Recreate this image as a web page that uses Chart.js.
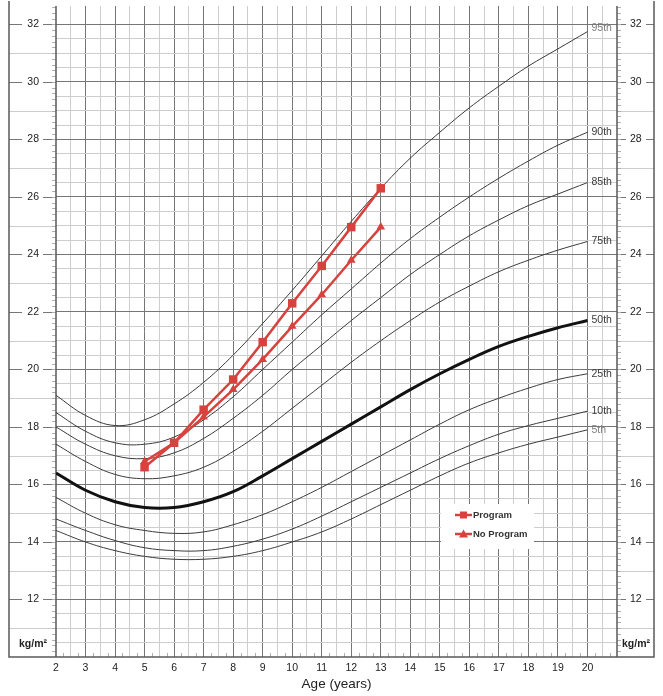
<!DOCTYPE html>
<html>
<head>
<meta charset="utf-8">
<script src="https://cdn.jsdelivr.net/npm/chart.js@4.4.1/dist/chart.umd.min.js"></script>
<style>
  html, body { margin: 0; padding: 0; background: #fff; }
  #wrap { width: 663px; height: 696px; }
</style>
</head>
<body>
<div id="wrap"><canvas id="myChart" width="663" height="696"></canvas></div>
<script>
// ages for the percentile curves
var ages = [2,3,4,5,6,7,8,9,10,11,12,13,14,15,16,17,18,19,20];

var p5  = [14.4,14.0,13.7,13.5,13.4,13.4,13.5,13.7,14.0,14.35,14.8,15.3,15.8,16.3,16.75,17.1,17.4,17.65,17.9];
var p10 = [14.8,14.4,14.05,13.8,13.7,13.7,13.85,14.1,14.45,14.9,15.4,15.9,16.4,16.9,17.35,17.75,18.05,18.3,18.55];
var p25 = [15.55,15.0,14.6,14.4,14.3,14.35,14.6,14.95,15.4,15.9,16.45,17.0,17.55,18.1,18.6,19.0,19.35,19.65,19.85];
var p50 = [16.4,15.8,15.4,15.2,15.2,15.4,15.75,16.3,16.9,17.5,18.1,18.7,19.3,19.85,20.35,20.8,21.15,21.45,21.7];
var p75 = [17.4,16.8,16.35,16.2,16.3,16.6,17.15,17.85,18.65,19.45,20.25,21.0,21.7,22.35,22.9,23.4,23.8,24.15,24.45];
var p85 = [18.0,17.4,17.0,16.9,17.1,17.6,18.3,19.1,20.0,20.85,21.7,22.5,23.3,24.0,24.65,25.2,25.7,26.1,26.5];
var p90 = [18.5,17.85,17.45,17.4,17.65,18.25,19.05,20.0,20.95,21.9,22.8,23.7,24.55,25.3,26.0,26.65,27.25,27.8,28.25];
var p95 = [19.1,18.4,18.05,18.25,18.8,19.55,20.5,21.6,22.75,23.95,25.15,26.3,27.35,28.25,29.1,29.85,30.55,31.15,31.75];

var percentileNames = ['5th','10th','25th','50th','75th','85th','90th','95th'];

// study groups
var studyAges = [5,6,7,8,9,10,11,12,13];
var program   = [16.6,17.45,18.6,19.65,20.95,22.3,23.6,24.95,26.3];
var noProgram = [16.8,17.45,18.35,19.3,20.35,21.5,22.6,23.8,24.95];

var yLabels = [12,14,16,18,20,22,24,26,28,30,32];
var xLabels = [2,3,4,5,6,7,8,9,10,11,12,13,14,15,16,17,18,19,20];

var RED = '#d8423e';
var FONT = '"Liberation Sans", Arial, Helvetica, sans-serif';
var DARK = '#767676', LIGHT = '#cdcdcd';

function pairs(xs, ys) {
    return ys.map(function (v, i) { return {x: xs[i], y: v}; });
}

function curve(label, data, bold) {
    return {
        label: label,
        data: pairs(ages, data),
        borderColor: bold ? '#111' : '#3a3a3a',
        borderWidth: bold ? 3 : 1,
        pointRadius: 0,
        tension: 0.4,
        fill: false,
        order: 5
    };
}

var curves = [p5,p10,p25,p50,p75,p85,p90,p95].map(function (d, i) {
    return curve(percentileNames[i], d, i === 3);
});

var isHalf = function (v) { return Math.abs(v * 2 - Math.round(v * 2)) < 1e-6; };
var isInt = function (v) { return Math.abs(v - Math.round(v)) < 1e-6; };

// keep tick padding from pushing the plot area down
function fixPad(s, w) {
    s.width = w;
    s.paddingTop = 6;
    s.paddingBottom = 6;
}

// frame, margin lines, small ticks, curve names and legend
var decor = {
    id: 'decor',
    beforeDatasetsDraw: function (chart) {
        var c = chart.ctx, a = chart.chartArea;
        var y = chart.scales.y, x = chart.scales.x;
        var L0 = 9, R0 = 654;
        c.save();
        // margin lines
        for (var v = 11; v <= 32; v++) {
            var py = Math.round(y.getPixelForValue(v)) + 0.5;
            c.beginPath();
            if (v % 2) {
                c.strokeStyle = LIGHT;
                c.moveTo(L0, py); c.lineTo(a.left, py);
                c.moveTo(a.right, py); c.lineTo(R0, py);
            } else if (v >= 12) {
                c.strokeStyle = DARK;
                c.moveTo(L0, py); c.lineTo(22, py);
                c.moveTo(43, py); c.lineTo(a.left, py);
                c.moveTo(a.right, py); c.lineTo(626, py);
                c.moveTo(646, py); c.lineTo(R0, py);
            }
            c.lineWidth = 1;
            c.stroke();
        }
        // small ticks along inner frame
        c.strokeStyle = '#b0b0b0';
        c.lineWidth = 1;
        c.beginPath();
        for (var t = 10.2; t < y.max; t += 0.2) {
            var ty = Math.round(y.getPixelForValue(t)) + 0.5;
            c.moveTo(a.left - 4, ty); c.lineTo(a.left, ty);
            c.moveTo(a.right, ty); c.lineTo(a.right + 4, ty);
        }
        for (var q = 2.25; q < 21; q += 0.5) {
            var tx = Math.round(x.getPixelForValue(q)) + 0.5;
            c.moveTo(tx, a.bottom); c.lineTo(tx, a.bottom - 4);
        }
        c.stroke();
        // outer frame
        c.strokeStyle = '#5a5a5a';
        c.lineWidth = 1.5;
        c.beginPath();
        c.moveTo(L0, 1); c.lineTo(L0, a.bottom);
        c.lineTo(R0, a.bottom); c.lineTo(R0, 1);
        c.moveTo(a.left, a.top); c.lineTo(a.left, a.bottom);
        c.moveTo(a.right, a.top); c.lineTo(a.right, a.bottom);
        c.stroke();
        // unit labels
        c.fillStyle = '#222';
        c.font = 'bold 10.5px ' + FONT;
        c.textAlign = 'center';
        c.textBaseline = 'middle';
        var ky = y.getPixelForValue(10.5);
        c.fillText('kg/m\u00b2', 33, ky + 1);
        c.fillText('kg/m\u00b2', 636, ky + 1);
        c.restore();
    },
    afterDatasetsDraw: function (chart) {
        var c = chart.ctx;
        c.save();
        c.font = '10.5px ' + FONT;
        c.textAlign = 'left';
        c.textBaseline = 'middle';
        for (var i = 0; i < 8; i++) {
            var meta = chart.getDatasetMeta(i);
            var pt = meta.data[meta.data.length - 1];
            c.fillStyle = (i === 0 || i === 7) ? '#808080' : '#3a3a3a';
            c.fillText(percentileNames[i], pt.x + 4, pt.y - (i === 7 ? 3 : 0));
        }
        // legend box
        var lx = 441, ly = 504, lw = 93, lh = 45;
        c.fillStyle = '#fff';
        c.fillRect(lx, ly, lw, lh);
        var items = [[chart.data.datasets[8], 515], [chart.data.datasets[9], 534]];
        items.forEach(function (it) {
            var ds = it[0], yy = it[1];
            c.strokeStyle = RED;
            c.lineWidth = 2.5;
            c.beginPath(); c.moveTo(455, yy); c.lineTo(472, yy); c.stroke();
            c.fillStyle = RED;
            c.beginPath();
            if (ds.pointStyle === 'rect') {
                c.rect(460, yy - 3.5, 7, 7);
            } else {
                c.moveTo(463.5, yy - 4.5); c.lineTo(468, yy + 3.5); c.lineTo(459, yy + 3.5); c.closePath();
            }
            c.fill();
            c.fillStyle = '#333';
            c.font = 'bold 9.5px ' + FONT;
            c.fillText(ds.label, 473, yy + 0.5);
        });
        c.restore();
    }
};

var ctx = document.getElementById('myChart').getContext('2d');
window.myChart = new Chart(ctx, {
    type: 'line',
    data: {
        datasets: curves.concat([
            {
                label: 'Program',
                data: pairs(studyAges, program),
                borderColor: RED,
                backgroundColor: RED,
                borderWidth: 2.5,
                pointStyle: 'rect',
                pointRadius: 6,
                pointBorderWidth: 0,
                order: 1
            },
            {
                label: 'No Program',
                data: pairs(studyAges, noProgram),
                borderColor: RED,
                backgroundColor: RED,
                borderWidth: 2.5,
                pointStyle: 'triangle',
                pointRadius: 5,
                pointBorderWidth: 0,
                order: 2
            }
        ])
    },
    options: {
        responsive: false,
        animation: false,
        layout: { padding: { left: 9, right: 9, top: 5, bottom: 0 } },
        plugins: {
            legend: { display: false },
            tooltip: { enabled: false }
        },
        scales: {
            x: {
                type: 'linear',
                min: 2,
                max: 21,
                afterFit: function (s) { s.height = 39; },
                border: { display: false },
                grid: {
                    drawTicks: false,
                    lineWidth: 1,
                    color: function (c) {
                        var v = c.tick.value;
                        if (v === 2 || v === 21) return 'rgba(0,0,0,0)';
                        return isInt(v) ? DARK : LIGHT;
                    }
                },
                ticks: {
                    stepSize: 0.5,
                    autoSkip: false,
                    maxRotation: 0,
                    padding: 5,
                    color: '#222',
                    font: { family: FONT, size: 10.5 },
                    callback: function (v) {
                        return xLabels.indexOf(v) >= 0 ? String(v) : '';
                    }
                },
                title: {
                    display: true,
                    text: 'Age (years)',
                    color: '#222',
                    font: { family: FONT, size: 13.5 },
                    padding: { top: 0, bottom: 4 }
                }
            },
            y: {
                type: 'linear',
                position: 'left',
                min: 10,
                max: 32.64,
                afterFit: function (s) { fixPad(s, 47); },
                border: { display: false },
                grid: {
                    drawTicks: false,
                    lineWidth: 1,
                    color: function (c) {
                        var v = c.tick.value;
                        if (!isHalf(v) || v === 10) return 'rgba(0,0,0,0)';
                        return (isInt(v) && Math.round(v) % 2 === 0) ? DARK : LIGHT;
                    }
                },
                ticks: {
                    stepSize: 0.5,
                    autoSkip: false,
                    crossAlign: 'center',
                    padding: 17,
                    color: '#222',
                    font: { family: FONT, size: 10.5 },
                    callback: function (v) {
                        return yLabels.indexOf(v) >= 0 ? String(v) : '';
                    }
                }
            },
            y2: {
                type: 'linear',
                position: 'right',
                display: true,
                min: 10,
                max: 32.64,
                afterFit: function (s) { fixPad(s, 37); },
                border: { display: false },
                grid: { display: false, drawTicks: false },
                ticks: {
                    stepSize: 0.5,
                    autoSkip: false,
                    crossAlign: 'center',
                    padding: 13,
                    color: '#222',
                    font: { family: FONT, size: 10.5 },
                    callback: function (v) {
                        return yLabels.indexOf(v) >= 0 ? String(v) : '';
                    }
                }
            }
        }
    },
    plugins: [decor]
});
</script>
</body>
</html>
